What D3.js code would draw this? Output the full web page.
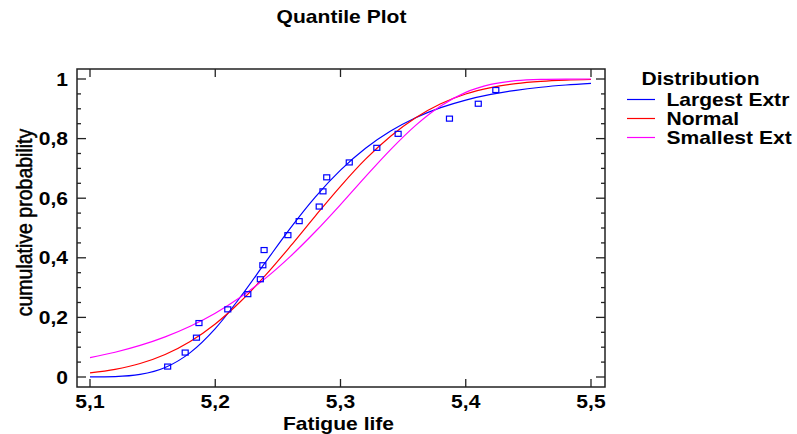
<!DOCTYPE html>
<html>
<head>
<meta charset="utf-8">
<script src="https://cdn.jsdelivr.net/npm/d3@7"></script>
<style>
  body { margin: 0; background: #fff; }
  svg { display: block; }
  text { font-family: Arial, "Liberation Sans", sans-serif; fill: #000; }
</style>
</head>
<body>
<svg width="797" height="434"></svg>
<script>
// fitted curves, every 0.02
const fatigueGrid = [5.10, 5.12, 5.14, 5.16, 5.18, 5.20, 5.22, 5.24, 5.26, 5.28, 5.30,
                     5.32, 5.34, 5.36, 5.38, 5.40, 5.42, 5.44, 5.46, 5.48, 5.50];
const largestExtreme = [0.0001, 0.0014, 0.0086, 0.0317, 0.0818, 0.1625, 0.2677, 0.3844, 0.4998, 0.6047, 0.6942,
                        0.7675, 0.8253, 0.870, 0.9038, 0.9293, 0.9482, 0.9621, 0.9724, 0.9799, 0.9854];
const normalFit = [0.0137, 0.0257, 0.0453, 0.0755, 0.1192, 0.178, 0.2524, 0.3409, 0.4388, 0.541, 0.640,
                   0.731, 0.808, 0.870, 0.917, 0.9496, 0.9711, 0.9844, 0.9920, 0.9962, 0.9983];
const smallestExtreme = [0.0650, 0.0831, 0.1060, 0.1347, 0.1703, 0.2141, 0.2675, 0.3309, 0.4049, 0.4882, 0.5786,
                         0.6725, 0.7632, 0.8445, 0.9094, 0.955, 0.9817, 0.9943, 0.9987, 0.9998, 1.0];

// observed points
const obsLife = [5.162, 5.176, 5.185, 5.187, 5.210, 5.226, 5.236, 5.238, 5.239, 5.258,
                 5.267, 5.283, 5.286, 5.289, 5.307, 5.329, 5.346, 5.387, 5.410, 5.424];
const obsProb = [0.035, 0.082, 0.132, 0.181, 0.227, 0.278, 0.328, 0.375, 0.426, 0.476,
                 0.523, 0.572, 0.623, 0.670, 0.720, 0.769, 0.816, 0.867, 0.917, 0.963];

const xTicks = [5.1, 5.2, 5.3, 5.4, 5.5];
const yTicks = [0, 0.2, 0.4, 0.6, 0.8, 1];
const yMinor = d3.range(0, 1.0001, 0.05);
// legend names are cut at the picture's right edge in the original
const seriesNames = ["Largest Extr", "Normal", "Smallest Ext"];
const seriesColors = ["#0000ff", "#ff0000", "#ff00ff"];
const seriesValues = [largestExtreme, normalFit, smallestExtreme];

const svg = d3.select("svg");
const SX = 1.17; // the original text is drawn a bit wide

const x = d3.scaleLinear().domain([5.1, 5.5]).range([90, 591]);
const y = d3.scaleLinear().domain([0, 1]).range([377, 79]);
const frame = { l: 77, r: 605, t: 69, b: 387 };
const comma = v => String(v).replace(".", ",");

function label(x0, y0, s, size, anchor, weight) {
  return svg.append("text")
    .attr("transform", `translate(${x0},${y0}) scale(${SX},1)`)
    .attr("text-anchor", anchor)
    .style("font-size", size + "px")
    .style("font-weight", weight)
    .text(s);
}

// title
label(341.5, 23, "Quantile Plot", 18, "middle", "bold");

// frame
svg.append("rect")
  .attr("x", frame.l).attr("y", frame.t)
  .attr("width", frame.r - frame.l).attr("height", frame.b - frame.t)
  .attr("fill", "none").attr("stroke", "#222").attr("stroke-width", 1.5);

// ticks, all pointing inward
const ticks = svg.append("g").attr("stroke", "#222").attr("stroke-width", 1.3);
xTicks.forEach(v => {
  ticks.append("line").attr("x1", x(v)).attr("x2", x(v)).attr("y1", frame.b).attr("y2", frame.b - 8);
  ticks.append("line").attr("x1", x(v)).attr("x2", x(v)).attr("y1", frame.t).attr("y2", frame.t + 8);
});
yMinor.forEach(v => {
  const major = yTicks.some(t => Math.abs(t - v) < 1e-6);
  const len = major ? 9 : 4;
  ticks.append("line").attr("x1", frame.l).attr("x2", frame.l + len).attr("y1", y(v)).attr("y2", y(v));
  ticks.append("line").attr("x1", frame.r).attr("x2", frame.r - len).attr("y1", y(v)).attr("y2", y(v));
});

// tick labels
xTicks.forEach(v => label(x(v), 408, comma(v), 18, "middle", "bold"));
yTicks.forEach(v => label(68, y(v) + 6.5, comma(v), 18, "end", "bold"));

// axis titles
label(338.5, 430, "Fatigue life", 18, "middle", "bold");
svg.append("text")
  .attr("transform", `translate(31.5,222.5) scale(${SX},1) rotate(-90)`)
  .attr("text-anchor", "middle")
  .style("font-size", "19.5px")
  .attr("stroke", "#000").attr("stroke-width", 0.45)
  .text("cumulative probability");

// curves
const line = d3.line()
  .x((d, i) => x(fatigueGrid[i]))
  .y(d => y(d))
  .curve(d3.curveMonotoneX);

svg.append("g").selectAll("path")
  .data(seriesValues)
  .join("path")
  .attr("d", line)
  .attr("fill", "none")
  .attr("stroke", (d, i) => seriesColors[i])
  .attr("stroke-width", 1.2);

// observations
svg.append("g").selectAll("rect")
  .data(obsLife)
  .join("rect")
  .attr("x", (d) => x(d) - 3)
  .attr("y", (d, i) => y(obsProb[i]) - 2.5)
  .attr("width", 6).attr("height", 5)
  .attr("fill", "none").attr("stroke", "#0000ff").attr("stroke-width", 1.2);

// legend
label(641.5, 85, "Distribution", 18, "start", "bold");
const legY = [99.5, 118.5, 137.5];
seriesNames.forEach((name, i) => {
  svg.append("line")
    .attr("x1", 627).attr("x2", 655)
    .attr("y1", legY[i]).attr("y2", legY[i])
    .attr("stroke", seriesColors[i]).attr("stroke-width", 1.2);
  label(666.5, legY[i] + 6, name, 18, "start", "bold");
});
</script>
</body>
</html>
